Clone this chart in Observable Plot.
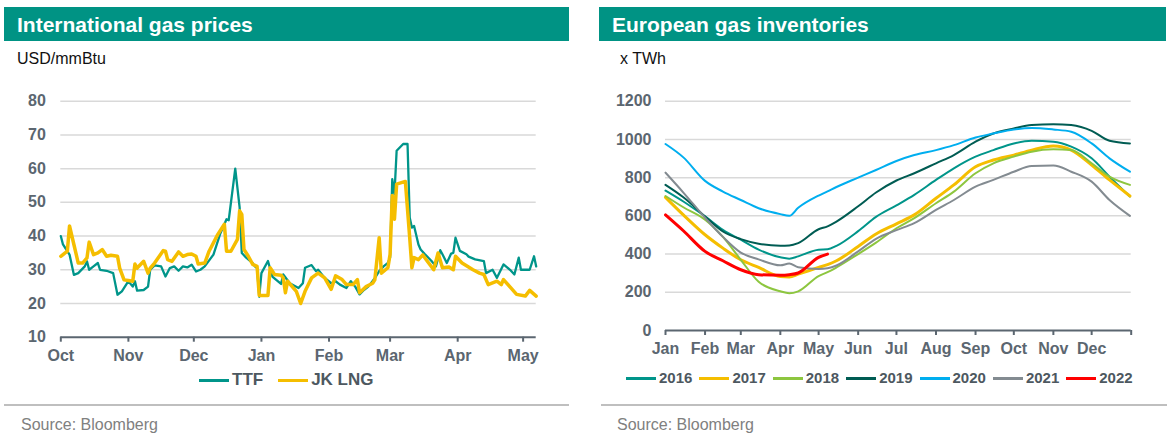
<!DOCTYPE html>
<html><head><meta charset="utf-8">
<script src="https://cdn.jsdelivr.net/npm/d3@7"></script>
<script src="https://cdn.jsdelivr.net/npm/@observablehq/plot@0.6"></script>
<style>
body{margin:0;width:1173px;height:440px;position:relative;font-family:"Liberation Sans",Arial,sans-serif;background:#fff;overflow:hidden}
.hdr{position:absolute;top:7px;height:34px;background:#009384;color:#fff;font-weight:bold;font-size:21px;line-height:35px;padding-left:13px;box-sizing:border-box;white-space:nowrap}
.unit{position:absolute;top:49px;font-size:16px;color:#111;line-height:20px}
.chart{position:absolute;top:80px;height:290px}
.legend{position:absolute;display:flex;font-weight:bold;color:#4d5860;align-items:center;line-height:20px;white-space:nowrap}
.legend .item{display:flex;align-items:center}
.legend .sw{display:inline-block;width:30px;height:3px;margin-right:3px}
.sep{position:absolute;top:404px;height:2px;background:#bfbfbf}
.src{position:absolute;top:415px;font-size:16px;color:#808080;line-height:20px}
</style></head>
<body>
<div class="hdr" style="left:4px;width:565px">International gas prices</div>
<div class="hdr" style="left:599px;width:567px">European gas inventories</div>
<div class="unit" style="left:17px">USD/mmBtu</div>
<div class="unit" style="left:620px">x TWh</div>
<div id="left" class="chart" style="left:0;width:569px"></div>
<div id="right" class="chart" style="left:590px;width:583px"></div>
<div id="legL" class="legend" style="left:199px;top:370px;font-size:17px"></div>
<div id="legR" class="legend" style="left:626px;top:368px;font-size:15px"></div>
<div class="sep" style="left:4px;width:565px"></div>
<div class="sep" style="left:601px;width:566px"></div>
<div class="src" style="left:21px">Source: Bloomberg</div>
<div class="src" style="left:617px">Source: Bloomberg</div>
<script>
// ---------- Left chart data: International gas prices (USD/mmBtu) ----------
const ttfDates = ["2021-10-01","2021-10-02","2021-10-05","2021-10-07","2021-10-09","2021-10-12","2021-10-13","2021-10-14","2021-10-16","2021-10-18","2021-10-19","2021-10-22","2021-10-25","2021-10-27","2021-10-29","2021-11-01","2021-11-03","2021-11-04","2021-11-05","2021-11-08","2021-11-10","2021-11-11","2021-11-13","2021-11-16","2021-11-18","2021-11-20","2021-11-22","2021-11-24","2021-11-26","2021-11-28","2021-11-30","2021-12-02","2021-12-04","2021-12-06","2021-12-10","2021-12-13","2021-12-15","2021-12-16","2021-12-17","2021-12-20","2021-12-22","2021-12-23","2021-12-25","2021-12-28","2021-12-29","2021-12-30","2021-12-31","2022-01-01","2022-01-04","2022-01-06","2022-01-10","2022-01-11","2022-01-14","2022-01-18","2022-01-20","2022-01-21","2022-01-24","2022-01-26","2022-01-27","2022-01-30","2022-02-02","2022-02-04","2022-02-06","2022-02-09","2022-02-11","2022-02-13","2022-02-15","2022-02-17","2022-02-19","2022-02-22","2022-02-24","2022-02-26","2022-02-28","2022-03-01","2022-03-02","2022-03-03","2022-03-04","2022-03-07","2022-03-09","2022-03-10","2022-03-11","2022-03-12","2022-03-14","2022-03-15","2022-03-17","2022-03-20","2022-03-22","2022-03-24","2022-03-25","2022-03-27","2022-03-29","2022-03-30","2022-03-31","2022-04-02","2022-04-05","2022-04-06","2022-04-09","2022-04-13","2022-04-14","2022-04-17","2022-04-19","2022-04-22","2022-04-25","2022-04-27","2022-04-29","2022-04-30","2022-05-04","2022-05-06","2022-05-07"];
const ttfValues = [40,37.5,34.5,28.5,29,31,32.5,30,31,32,30,29.7,29,22.6,23.6,26.6,25,26.6,23.8,24,25,30,31.3,31,28,30.5,31,29.7,31,30.7,31.5,29.5,30,31,34.5,40.5,43.5,45,44.7,60,48.5,35,33.6,32,31,30.5,22,29,32.6,28,25.8,28.6,26,24.6,26,30.6,31.4,29.6,30,27.6,26,26.6,25.6,24.6,26.6,25,22.7,24,25,27.5,29.6,31,32,33.6,56.9,52.4,65.3,67.3,67.3,45.5,42.5,43,37.5,36,34.6,32.6,31,35.8,34.6,32,34.8,35,39.5,35.6,34.6,33.9,33.1,32.6,29,30,27.6,31.6,30,28.6,33.6,30,30,34,31];
const jklDates = ["2021-10-01","2021-10-04","2021-10-05","2021-10-07","2021-10-09","2021-10-11","2021-10-13","2021-10-14","2021-10-16","2021-10-18","2021-10-20","2021-10-22","2021-10-24","2021-10-27","2021-10-28","2021-10-30","2021-11-01","2021-11-03","2021-11-04","2021-11-05","2021-11-08","2021-11-10","2021-11-11","2021-11-13","2021-11-17","2021-11-18","2021-11-19","2021-11-21","2021-11-24","2021-11-26","2021-11-28","2021-11-30","2021-12-02","2021-12-03","2021-12-06","2021-12-08","2021-12-12","2021-12-15","2021-12-16","2021-12-18","2021-12-21","2021-12-22","2021-12-23","2021-12-24","2021-12-26","2021-12-28","2021-12-30","2021-12-31","2022-01-04","2022-01-05","2022-01-07","2022-01-10","2022-01-11","2022-01-12","2022-01-13","2022-01-17","2022-01-19","2022-01-21","2022-01-24","2022-01-27","2022-01-30","2022-02-02","2022-02-04","2022-02-07","2022-02-09","2022-02-12","2022-02-14","2022-02-15","2022-02-18","2022-02-21","2022-02-22","2022-02-24","2022-02-25","2022-02-28","2022-03-01","2022-03-02","2022-03-03","2022-03-04","2022-03-08","2022-03-10","2022-03-11","2022-03-12","2022-03-14","2022-03-16","2022-03-18","2022-03-21","2022-03-23","2022-03-25","2022-03-28","2022-03-30","2022-03-31","2022-04-03","2022-04-08","2022-04-11","2022-04-13","2022-04-15","2022-04-19","2022-04-21","2022-04-22","2022-04-26","2022-04-28","2022-05-02","2022-05-04","2022-05-07"];
const jklValues = [34,35.5,43,37.5,32,32,33.5,38.2,34.5,35,36,34,34.3,34,30.5,27,26.8,26.6,31.7,30.5,32.5,29,30.5,32,35.7,35.5,33,32.5,35.3,34,34.5,34.7,34,31.7,32,35.5,40.5,43.5,35.5,35.5,39,47.5,46.4,36,34,31.6,31,22.4,22.4,30.6,28.6,28.4,27.6,23.2,26.6,23.6,20,23.6,27.6,29,27.6,24.2,28.2,27.1,25.6,25.6,27.1,23.2,25,26,27,39.5,29,30.6,34.6,52,45,55.4,56.2,39.5,30.6,33.6,33,34.4,32.6,30,35,30.6,30.8,30,34,32,30,29,28.6,25.6,26.6,25.6,27.1,24.2,22.7,22.2,23.9,22.2];
const leftYTicks = [10,20,30,40,50,60,70,80];
const leftMonthTicks = ["2021-10-01","2021-11-01","2021-12-01","2022-01-01","2022-02-01","2022-03-01","2022-04-01","2022-05-01"];
const leftDomain = ["2021-10-01","2022-05-07"];

// ---------- Right chart data: European gas inventories (TWh) ----------
const seasonDates = ["01-01","01-15","02-01","02-15","03-01","03-15","04-01","04-08","04-15","05-01","05-08","05-15","06-01","06-15","07-01","07-15","08-01","08-15","09-01","09-15","10-01","10-15","11-01","11-15","12-01","12-15","12-31"];
const inv2016 = [732,675,597,527,475,423,383,376,388,423,425,443,520,595,655,710,788,849,910,944,979,993,988,962,901,805,701];
const inv2017 = [697,605,501,431,370,330,282,280,295,330,345,365,440,505,558,605,692,762,857,892,918,944,965,944,866,788,704];
const inv2018 = [704,645,580,490,370,255,205,195,205,285,305,330,400,460,535,588,666,727,823,875,910,936,948,944,875,805,762];
const inv2019 = [762,697,597,518,478,454,444,445,457,530,545,570,650,722,785,823,875,918,988,1031,1057,1075,1080,1075,1045,993,979];
const inv2020 = [976,906,783,727,683,640,609,600,642,706,728,751,800,840,887,918,944,970,1010,1031,1052,1060,1052,1040,979,901,831];
const inv2021 = [826,722,590,490,408,372,341,350,331,322,326,340,414,480,525,562,631,683,753,788,831,861,863,831,779,683,600];
const inv2022 = [605,522,414,365,318,292,289,292,301,383,400,null,null,null,null,null,null,null,null,null,null,null,null,null,null,null,null];
const years = ["2016","2017","2018","2019","2020","2021","2022"];
const yearColors = ["#00958a","#f5be00","#8dc63f","#005c53","#00aeef","#838b91","#ff0000"];
const yearWidths = [2,3,2,2,2,2,3];
const rightYTicks = [0,200,400,600,800,1000,1200];
const monthNames = ["Jan","Feb","Mar","Apr","May","Jun","Jul","Aug","Sep","Oct","Nov","Dec",""];

// ---------- build ----------
const parse = d3.utcParse("%Y-%m-%d");
const axisColor = "#5b6670";
const fontFam = "'Liberation Sans', Arial, sans-serif";

const ttf = ttfDates.map((d,i)=>({date:parse(d), value:ttfValues[i]}));
const jkl = jklDates.map((d,i)=>({date:parse(d), value:jklValues[i]}));

const left = Plot.plot({
  width:569, height:290,
  marginTop:20.7, marginBottom:33.3, marginLeft:60.3, marginRight:33.3,
  x:{type:"utc", domain:leftDomain.map(parse)},
  y:{domain:[10,80]},
  style:{fontFamily:fontFam, fontSize:"16px", fontWeight:"bold", color:axisColor, background:"transparent", overflow:"visible"},
  marks:[
    Plot.ruleY(leftYTicks.filter(v=>v>10), {stroke:"#d9d9d9", strokeWidth:1.5}),
    Plot.axisY({ticks:leftYTicks, tickSize:0, tickPadding:15, label:null, tickFormat:d=>String(d)}),
    Plot.line(ttf, {x:"date", y:"value", stroke:"#00958a", strokeWidth:2.3}),
    Plot.line(jkl, {x:"date", y:"value", stroke:"#f5be00", strokeWidth:3.5}),
    Plot.ruleY([10], {stroke:axisColor, strokeWidth:2}),
    Plot.axisX({ticks:leftMonthTicks.map(parse), tickFormat:d3.utcFormat("%b"), tickSize:5, tickPadding:7, label:null, strokeWidth:2})
  ]
});
document.getElementById("left").appendChild(left);

const seriesAll = [inv2016,inv2017,inv2018,inv2019,inv2020,inv2021,inv2022];
const invData = [];
years.forEach((y,k)=>{
  seasonDates.forEach((md,i)=>{
    invData.push({year:y, date:parse("2021-"+md), value:seriesAll[k][i]});
  });
});
const rightTicks = d3.range(13).map(m=>new Date(Date.UTC(2021,m,1)));

const right = Plot.plot({
  width:583, height:290,
  marginTop:20.7, marginBottom:40, marginLeft:75, marginRight:42.3,
  x:{type:"utc", domain:[parse("2021-01-01"), parse("2022-01-01")]},
  y:{domain:[0,1200]},
  style:{fontFamily:fontFam, fontSize:"16px", fontWeight:"bold", color:axisColor, background:"transparent", overflow:"visible"},
  marks:[
    Plot.ruleY(rightYTicks.filter(v=>v>0), {stroke:"#d9d9d9", strokeWidth:1.5}),
    Plot.axisY({ticks:rightYTicks, tickSize:0, tickPadding:14, label:null, tickFormat:d=>String(d)}),
    ...years.map((y,k)=>Plot.line(invData.filter(d=>d.year===y), {x:"date", y:"value", stroke:yearColors[k], strokeWidth:yearWidths[k], curve:"monotone-x"})),
    Plot.ruleY([0], {stroke:axisColor, strokeWidth:2}),
    Plot.axisX({ticks:rightTicks, tickFormat:(d)=>monthNames[d.getUTCMonth() + (d.getUTCFullYear()>2021?12:0)], tickSize:5, tickPadding:7, label:null, strokeWidth:2})
  ]
});
document.getElementById("right").appendChild(right);

function legend(el, names, colors, gap){
  const c = document.getElementById(el);
  names.forEach((n,i)=>{
    const it = document.createElement("div"); it.className="item";
    if (i < names.length-1) it.style.marginRight = gap+"px";
    const sw = document.createElement("span"); sw.className="sw"; sw.style.background=colors[i];
    const t = document.createElement("span"); t.textContent=n;
    it.appendChild(sw); it.appendChild(t); c.appendChild(it);
  });
}
legend("legL", ["TTF","JK LNG"], ["#00958a","#f5be00"], 15);
legend("legR", years, yearColors, 7);
</script>
</body></html>
